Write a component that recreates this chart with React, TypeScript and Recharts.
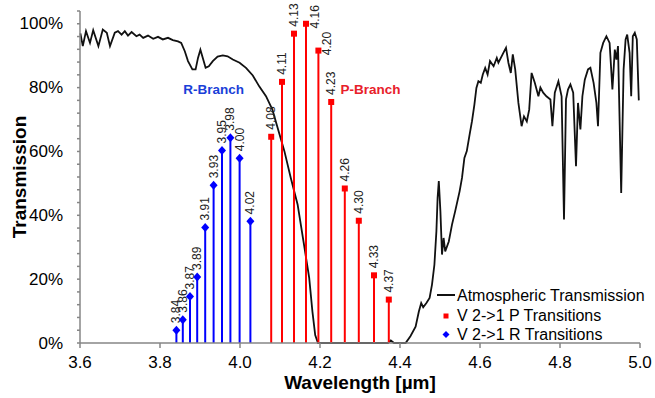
import React from 'react';
import { ComposedChart, Line, Scatter, XAxis, YAxis } from 'recharts';

const FONT = '"Liberation Sans", Arial, Helvetica, sans-serif';
const RED = '#ff0000';
const BLUE = '#0000ff';
const AXIS = '#868686';

// Atmospheric transmission curve (wavelength µm, transmission %)
const ATM_WL = [
  3.601, 3.607, 3.615, 3.625, 3.633, 3.646, 3.657, 3.667, 3.675, 3.687, 3.695, 3.704, 3.712, 3.72, 3.729,
  3.741, 3.749, 3.758, 3.77, 3.783, 3.795, 3.807, 3.82, 3.832, 3.845, 3.853, 3.862, 3.87, 3.881, 3.889,
  3.895, 3.901, 3.907, 3.914, 3.922, 3.932, 3.944, 3.957, 3.969, 3.982, 3.999, 4.015, 4.032, 4.048, 4.065,
  4.081, 4.094, 4.111, 4.127, 4.144, 4.16, 4.173, 4.181, 4.188, 4.195, 4.37, 4.377, 4.385, 4.414, 4.426,
  4.439, 4.447, 4.453, 4.458, 4.466, 4.474, 4.48, 4.486, 4.491, 4.494, 4.497, 4.501, 4.505, 4.509, 4.513,
  4.522, 4.53, 4.538, 4.549, 4.555, 4.561, 4.567, 4.574, 4.58, 4.586, 4.591, 4.596, 4.602, 4.607, 4.613,
  4.619, 4.625, 4.634, 4.642, 4.646, 4.654, 4.66, 4.665, 4.671, 4.677, 4.682, 4.688, 4.696, 4.704, 4.71,
  4.717, 4.723, 4.729, 4.737, 4.746, 4.751, 4.758, 4.766, 4.776, 4.781, 4.787, 4.796, 4.804, 4.81, 4.815,
  4.82, 4.826, 4.833, 4.84, 4.845, 4.851, 4.856, 4.862, 4.87, 4.876, 4.884, 4.891, 4.895, 4.901, 4.908,
  4.916, 4.924, 4.931, 4.937, 4.941, 4.945, 4.953, 4.959, 4.964, 4.968, 4.974, 4.978, 4.982, 4.987, 4.992,
  4.997,
];
const ATM_T = [
  97.0, 93.0, 97.7, 94.0, 98.0, 93.0, 98.2, 97.2, 93.0, 97.2, 97.7, 96.6, 97.7, 96.3, 97.4,
  96.1, 96.6, 95.6, 96.3, 95.3, 95.9, 95.1, 95.6, 94.9, 94.5, 94.0, 91.4, 88.3, 85.7, 85.7,
  89.3, 91.9, 89.3, 86.2, 86.7, 88.3, 89.7, 90.1, 89.8, 88.8, 87.8, 86.2, 83.8, 80.4, 77.3,
  73.1, 67.4, 60.1, 51.7, 43.4, 30.8, 20.4, 9.9, 2.5, 0, 0, 0.8, 0, 0, 2.1,
  5.1, 9.8, 12.5, 11.2, 12.5, 14.1, 18.3, 24.5, 35.0, 45.5, 50.7, 41.3, 27.7, 32.9, 28.7,
  31.8, 37.1, 41.3, 47.5, 51.7, 58.0, 60.1, 65.3, 69.5, 74.7, 79.9, 82.0, 81.5, 84.1, 86.2,
  84.1, 88.3, 86.7, 89.3, 87.8, 89.8, 91.3, 92.5, 87.8, 84.6, 90.4, 85.7, 75.2, 67.9, 71.0,
  69.4, 73.1, 84.6, 81.5, 77.3, 80.0, 78.4, 77.3, 76.3, 67.9, 78.4, 82.0, 77.3, 38.7, 76.3,
  79.4, 81.0, 78.4, 55.4, 75.2, 66.9, 77.3, 82.5, 85.7, 86.2, 81.5, 75.2, 67.9, 90.9, 94.0,
  96.1, 94.0, 79.4, 91.9, 88.8, 93.0, 47.0, 85.7, 95.1, 96.6, 90.9, 77.3, 96.1, 97.2, 95.1,
  76.0,
];

// V 2->1 P transitions
const P_WL = [4.078, 4.105, 4.135, 4.165, 4.196, 4.228, 4.262, 4.297, 4.335, 4.372];
const P_T = [64.6, 81.8, 96.9, 100, 91.6, 75.5, 48.4, 38.3, 21.2, 13.6];
const P_LABELS = ['4.08', '4.11', '4.13', '4.16', '4.20', '4.23', '4.26', '4.30', '4.33', '4.37'];

// V 2->1 R transitions
const R_WL = [3.841, 3.857, 3.875, 3.893, 3.913, 3.934, 3.955, 3.976, 3.999, 4.026];
const R_T = [4.0, 7.3, 14.6, 20.7, 36.2, 49.4, 60.3, 64.3, 57.9, 38.1];
const R_LABELS = ['3.84', '3.86', '3.87', '3.89', '3.91', '3.93', '3.95', '3.98', '4.00', '4.02'];

// label placement (style): P labels at 4.16 and 4.20 sit to the right of their markers
const P_LABEL_RIGHT = [false, false, false, true, true, false, false, false, false, false];

const X_TICKS = [3.6, 3.8, 4.0, 4.2, 4.4, 4.6, 4.8, 5.0];
const Y_TICKS = [0, 4, 8, 12, 16, 20, 24, 28, 32, 36, 40, 44, 48, 52, 56, 60, 64, 68, 72, 76, 80, 84, 88, 92, 96, 100, 104];

const R_BRANCH = [{ x: 3.934, y: 79.4 }];
const P_BRANCH = [{ x: 4.326, y: 79.4 }];

const ATM = ATM_WL.map((x, i) => ({ x, y: ATM_T[i] }));
const P_POINTS = P_WL.map((x, i) => ({ x, y: P_T[i], label: P_LABELS[i], right: P_LABEL_RIGHT[i] }));
const R_POINTS = R_WL.map((x, i) => ({ x, y: R_T[i], label: R_LABELS[i], right: false }));

const stemLabel = (cx: number, cy: number, label: string, right: boolean) => {
  const tx = right ? cx + 9 : cx;
  const ty = cy - 7;
  return (
    <text
      x={tx}
      y={ty}
      transform={`rotate(-90, ${tx}, ${ty})`}
      textAnchor={right ? 'middle' : 'start'}
      dominantBaseline="central"
      fontSize={12}
      fontFamily={FONT}
      fill="#222"
    >
      {label}
    </text>
  );
};

const PShape = (props: any) => {
  const { cx, cy, payload } = props;
  return (
    <g>
      <rect x={cx - 3} y={cy - 3} width={6} height={6} fill={RED} />
      {stemLabel(cx, cy, payload.label, payload.right)}
    </g>
  );
};

const RShape = (props: any) => {
  const { cx, cy, payload } = props;
  return (
    <g>
      <polygon points={`${cx},${cy - 4.5} ${cx + 4},${cy} ${cx},${cy + 4.5} ${cx - 4},${cy}`} fill={BLUE} />
      {stemLabel(cx, cy, payload.label, payload.right)}
    </g>
  );
};

const branchShape = (text: string, color: string) => (props: any) => {
  const { cx, cy } = props;
  return (
    <text x={cx} y={cy} textAnchor="middle" dominantBaseline="central" fontSize={13.5} fontWeight="bold" fontFamily={FONT} fill={color}>
      {text}
    </text>
  );
};

const YTick = (props: any) => {
  const { x, y, payload } = props;
  const v = payload.value;
  if (v % 20 !== 0 || v > 100) return <g />;
  return (
    <text x={x} y={y} textAnchor="end" dominantBaseline="central" fontSize={17} fontFamily={FONT} fill="#000">
      {`${v}%`}
    </text>
  );
};

const XLabel = (props: any) => {
  const vb = props.viewBox || { x: 80, y: 343, width: 560, height: 45 };
  return (
    <text x={vb.x + vb.width / 2} y={vb.y + 46} textAnchor="middle" fontSize={19} fontWeight="bold" fontFamily={FONT} fill="#000">
      Wavelength [µm]
    </text>
  );
};

const YLabel = (props: any) => {
  const vb = props.viewBox || { x: 10, y: 11, width: 70, height: 332 };
  const cx = vb.x + 9;
  const cy = vb.y + vb.height / 2;
  return (
    <text x={cx} y={cy} transform={`rotate(-90, ${cx}, ${cy})`} textAnchor="middle" dominantBaseline="central" fontSize={19} fontWeight="bold" fontFamily={FONT} fill="#000">
      Transmission
    </text>
  );
};

export default function App() {
  return (
    <div style={{ position: 'absolute', left: 0, top: 0, width: 655, height: 398, background: '#fff' }}>
      <ComposedChart width={655} height={398} margin={{ top: 11, right: 15, bottom: 10, left: 10 }}>
        <XAxis
          type="number"
          dataKey="x"
          domain={[3.6, 5.0]}
          ticks={X_TICKS}
          interval={0}
          stroke={AXIS}
          strokeWidth={1.5}
          tickSize={5}
          tickMargin={8}
          height={45}
          tick={{ fill: '#000', fontSize: 17, fontFamily: FONT }}
          tickFormatter={(v: number) => v.toFixed(1)}
          label={XLabel}
        />
        <YAxis
          type="number"
          dataKey="y"
          domain={[0, 104]}
          ticks={Y_TICKS}
          interval={0}
          stroke={AXIS}
          strokeWidth={1.5}
          tickSize={3}
          tickMargin={14}
          width={70}
          tick={YTick}
          label={YLabel}
        />
        <Line data={ATM} dataKey="y" type="linear" stroke="#111" strokeWidth={1.8} dot={false} activeDot={false} isAnimationActive={false} />
        {P_POINTS.map((p, i) => (
          <Line
            key={`p${i}`}
            data={[{ x: p.x, y: 0 }, { x: p.x, y: p.y }]}
            dataKey="y"
            type="linear"
            stroke={RED}
            strokeWidth={2}
            dot={false}
            activeDot={false}
            isAnimationActive={false}
          />
        ))}
        {R_POINTS.map((p, i) => (
          <Line
            key={`r${i}`}
            data={[{ x: p.x, y: 0 }, { x: p.x, y: p.y }]}
            dataKey="y"
            type="linear"
            stroke={BLUE}
            strokeWidth={2}
            dot={false}
            activeDot={false}
            isAnimationActive={false}
          />
        ))}
        <Scatter data={P_POINTS} shape={PShape} isAnimationActive={false} />
        <Scatter data={R_POINTS} shape={RShape} isAnimationActive={false} />
        <Scatter data={R_BRANCH} shape={branchShape('R-Branch', '#1a3fd8')} isAnimationActive={false} />
        <Scatter data={P_BRANCH} shape={branchShape('P-Branch', '#e8202a')} isAnimationActive={false} />
      </ComposedChart>
      <svg width={655} height={398} style={{ position: 'absolute', left: 0, top: 0, pointerEvents: 'none' }}>
        <line x1={437} y1={295} x2={455} y2={295} stroke="#111" strokeWidth={2} />
        <text x={457} y={295} dominantBaseline="central" fontSize={16} fontFamily={FONT} fill="#000">Atmospheric Transmission</text>
        <rect x={443.5} y={313.5} width={5} height={5} fill={RED} />
        <text x={457} y={315} dominantBaseline="central" fontSize={16} fontFamily={FONT} fill="#000">V 2-&gt;1 P Transitions</text>
        <polygon points="446,331 449.5,334.5 446,338 442.5,334.5" fill={BLUE} />
        <text x={457} y={334.5} dominantBaseline="central" fontSize={16} fontFamily={FONT} fill="#000">V 2-&gt;1 R Transitions</text>
      </svg>
    </div>
  );
}
